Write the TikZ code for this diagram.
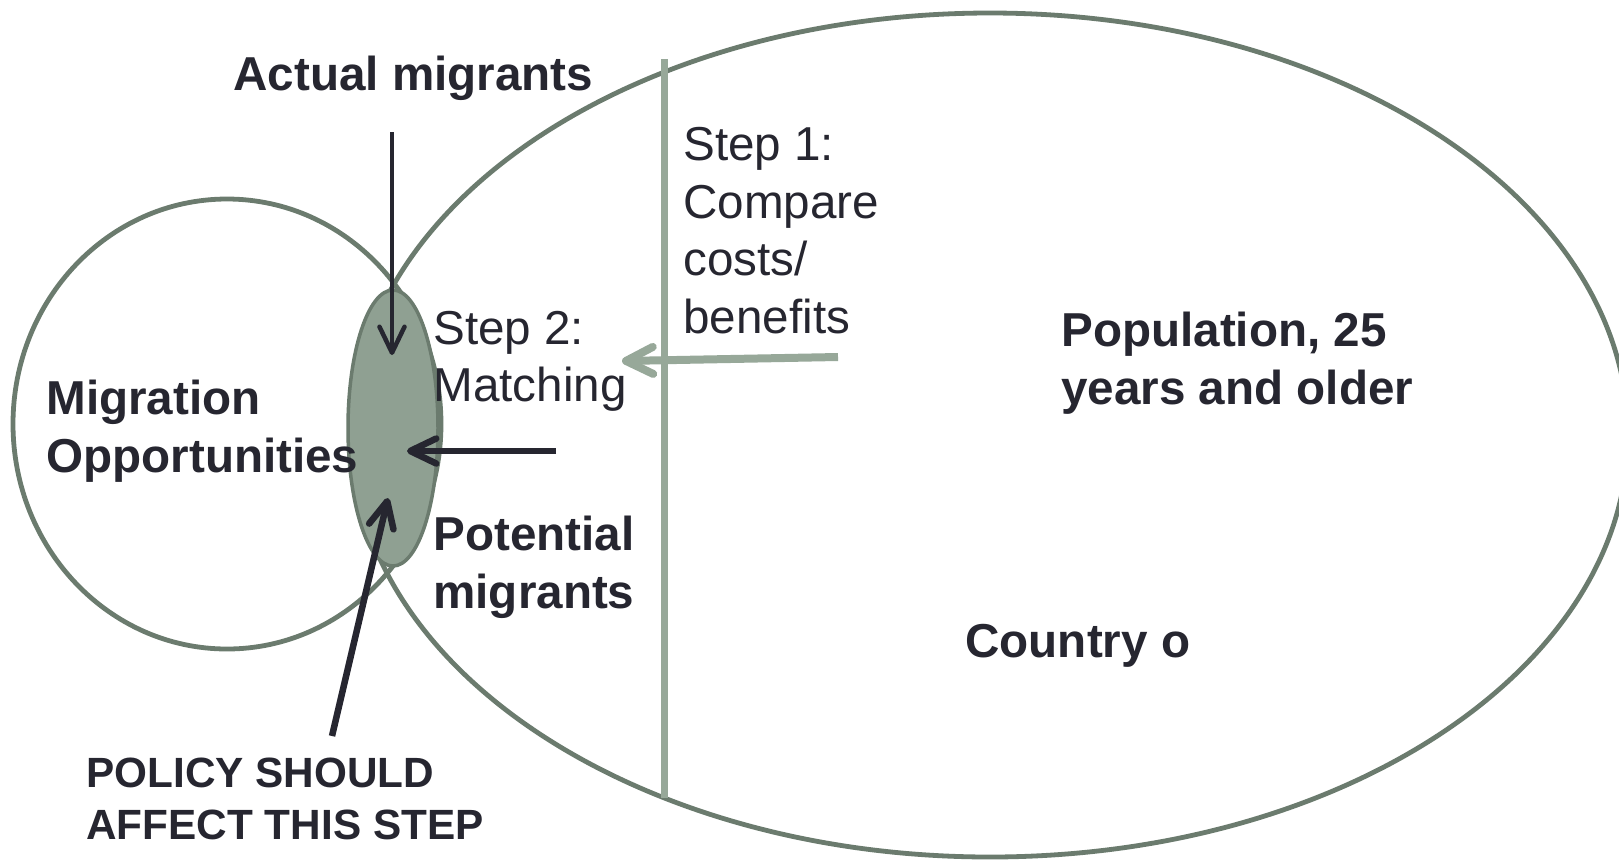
\documentclass[tikz,border=0pt]{standalone}
\usepackage{fontspec}
\setmainfont{Liberation Sans}
\usetikzlibrary{arrows.meta,shapes.geometric}
\definecolor{outl}{HTML}{6B7B6E}
\definecolor{fillg}{HTML}{8FA092}
\definecolor{lightg}{HTML}{97A899}
\definecolor{ink}{HTML}{262630}
\tikzset{
  lbl/.style={anchor=base west, inner sep=0pt, align=left, text=ink,
    font=\fontsize{23.8pt}{28.75pt}\selectfont},
  lblb/.style={lbl, font=\fontsize{23.8pt}{28.75pt}\selectfont\bfseries},
  small/.style={lbl, font=\fontsize{21.15pt}{26.2pt}\selectfont\bfseries},
  ring/.style={ellipse, draw=outl, line width=2.4pt, inner sep=0pt, outer sep=0pt},
  darr/.style={draw=ink, line width=3.25pt,
    -{Straight Barb[length=13pt,width=12.5pt,line cap=round,line join=round]}},
  garr/.style={draw=lightg, line width=4pt,
    -{Straight Barb[length=13.5pt,width=13.5pt,line cap=round,line join=round]}}
}
\begin{document}
\begin{tikzpicture}[x=0.5pt,y=-0.5pt]
\useasboundingbox (0,0) rectangle (1619,859);
\clip (0,0) rectangle (1619,859);
\fill[white] (0,0) rectangle (1619,859);
% shapes
\node[ring, minimum width=214pt, minimum height=225pt] (opp) at (227,424) {};
\node[ring, minimum width=638pt, minimum height=422pt] (pop) at (990,435) {};
\node[ellipse, draw=outl, fill=fillg, line width=1.75pt, inner sep=0pt,
      minimum width=45pt, minimum height=138pt] (match) at (393,428) {};
% vertical separator
\coordinate (vtop) at (664.5,59);
\coordinate (vbot) at (664.5,798);
\draw[lightg, line width=3.75pt] (vtop) -- (vbot);
% texts (anchor = baseline of the last line)
\node[lblb] (actual) at (233,90) {Actual migrants};
\node[lblb] (mo) at (46,472.3) {Migration\\Opportunities};
\node[lbl] (step1) at (683,333) {Step 1:\\Compare\\costs/\\benefits};
\node[lbl] (step2) at (433,401.6) {Step 2:\\Matching};
\node[lblb] (potential) at (433,608) {Potential\\migrants};
\node[lblb] (population) at (1061,404) {Population, 25\\years and older};
\node[lblb] (country) at (965,657.5) {Country o};
\node[small] (policy) at (86,839.4) {POLICY SHOULD\\AFFECT THIS STEP};
% arrows
\coordinate (a1s) at (392,132);
\coordinate (a1e) at (392,355);
\coordinate (a2s) at (556,451);
\coordinate (a2e) at (407,451);
\coordinate (a3s) at (332,736);
\coordinate (a3e) at (388,498);
\coordinate (gs) at (838,357);
\coordinate (ge) at (622,361);
\draw[darr, line width=2.25pt] (a1s) -- (a1e);
\draw[darr] (a2s) -- (a2e);
\draw[darr] (a3s) -- (a3e);
\draw[garr] (gs) -- (ge);
\end{tikzpicture}
\end{document}
